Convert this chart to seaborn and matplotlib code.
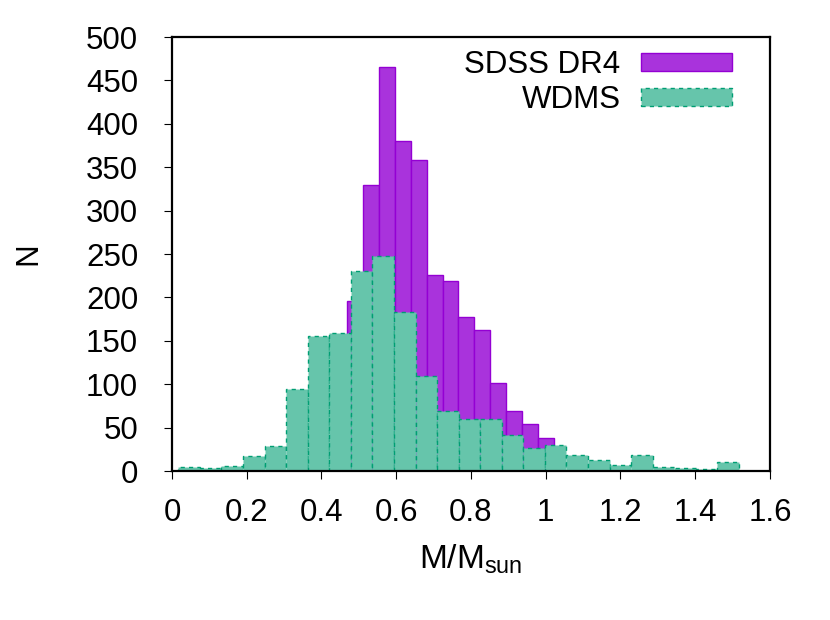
import numpy as np
import pandas as pd
import matplotlib
matplotlib.use('Agg')
import matplotlib.pyplot as plt
from matplotlib.patches import Patch
from matplotlib.ticker import FormatStrFormatter
import seaborn as sns

# SDSS DR4 histogram (bin range and counts)
sdss_range = (0.467, 1.0234)
sdss_counts = [196, 329, 466, 380, 358, 226, 219, 178, 162, 101, 69, 54, 38]

# WDMS histogram
wdms_range = (0.017, 1.517)
wdms_counts = [5, 3, 6, 17, 29, 94, 155, 159, 231, 248, 183, 109, 69,
               60, 60, 42, 26, 30, 19, 13, 7, 18, 5, 4, 2, 10]

labels = ['SDSS DR4', 'WDMS']
x_ticks = [0, 0.2, 0.4, 0.6, 0.8, 1.0, 1.2, 1.4, 1.6]
y_ticks = [0, 50, 100, 150, 200, 250, 300, 350, 400, 450, 500]

sdss_fill, sdss_edge = '#a933dc', '#9400d3'
wdms_fill, wdms_edge = '#66c5ab', '#009e73'

FS = 22.5


def binned(rng, counts):
    """Return bin edges and a frame of bin centers / counts."""
    edges = np.linspace(rng[0], rng[1], len(counts) + 1)
    centers = 0.5 * (edges[:-1] + edges[1:])
    df = pd.DataFrame({'mass': centers, 'n': counts})
    return list(edges), df


sns.set_theme(style='white')
plt.rcParams['font.family'] = ['Liberation Sans', 'DejaVu Sans']
plt.rcParams['mathtext.fontset'] = 'custom'
plt.rcParams['mathtext.rm'] = 'Liberation Sans'
plt.rcParams['mathtext.it'] = 'Liberation Sans:italic'
plt.rcParams['text.color'] = 'black'
plt.rcParams['axes.labelcolor'] = 'black'

fig = plt.figure(figsize=(8.3, 6.2), dpi=100)
ax = fig.add_axes([0.2072, 0.2403, 0.7205, 0.7000])

e1, df1 = binned(sdss_range, sdss_counts)
sns.histplot(data=df1, x='mass', weights='n', bins=e1, ax=ax, color=sdss_fill,
             alpha=1, edgecolor=sdss_edge, linewidth=1.0)

e2, df2 = binned(wdms_range, wdms_counts)
sns.histplot(data=df2, x='mass', weights='n', bins=e2, ax=ax, color=wdms_fill,
             alpha=1, edgecolor=wdms_edge, linewidth=1.0, linestyle=(0, (3, 3)))

ax.set_xlim(0, 1.6)
ax.set_ylim(0, 500)
ax.set_xticks(x_ticks)
ax.set_yticks(y_ticks)
ax.xaxis.set_major_formatter(FormatStrFormatter('%g'))

ax.tick_params(axis='both', which='major', direction='out', length=5.8, width=0.8,
               labelsize=FS, colors='black', bottom=True, left=True)
ax.tick_params(axis='y', pad=18.5)
ax.tick_params(axis='x', pad=13.5)
for sp in ax.spines.values():
    sp.set_color('black')
    sp.set_linewidth(1.6)

ax.set_xlabel(r'M/M$_{\mathrm{sun}}$', fontsize=24)
ax.set_ylabel('N', fontsize=FS)
ax.xaxis.set_label_coords(0.5, -0.166)
ax.yaxis.set_label_coords(-0.215, 0.5)

handles = [
    Patch(facecolor=sdss_fill, edgecolor=sdss_edge, linewidth=1.0),
    Patch(facecolor=wdms_fill, edgecolor=wdms_edge, linewidth=1.0, linestyle=(0, (3, 3))),
]
ax.legend(handles, labels, loc='upper right', bbox_to_anchor=(0.9365, 0.97),
          markerfirst=False, frameon=False, fontsize=FS, handlelength=2.9,
          handleheight=0.5, labelspacing=0.15, handletextpad=0.67,
          borderaxespad=0, borderpad=0)

fig.savefig('out.png', dpi=100)
